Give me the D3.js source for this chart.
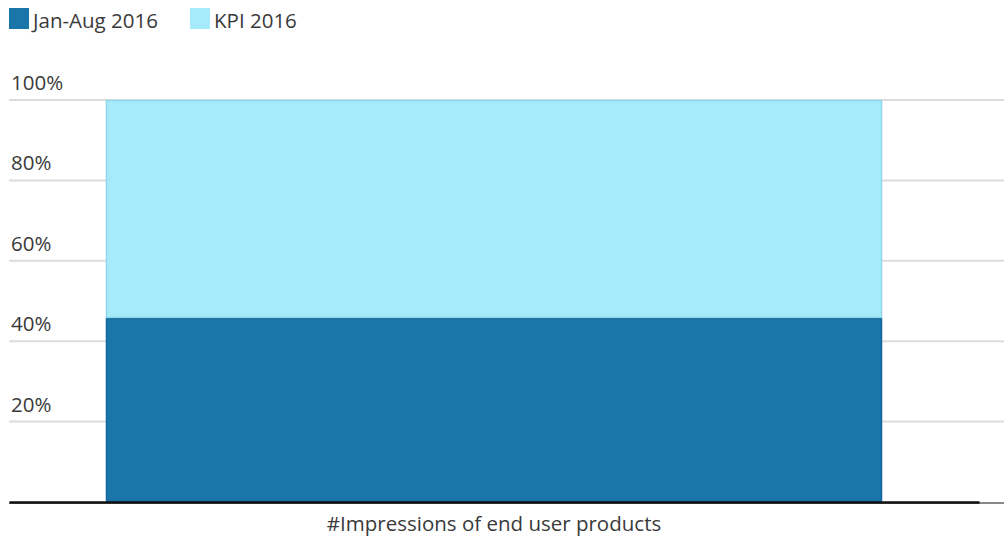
<!DOCTYPE html>
<html>
<head>
<meta charset="utf-8">
<script src="https://cdn.jsdelivr.net/npm/d3@7"></script>
<style>
body { margin: 0; background: #fff; font-family: "Open Sans", sans-serif; }
</style>
</head>
<body>
<div id="chart"></div>
<script>
var categories = ["#Impressions of end user products"];
var seriesNames = ["Jan-Aug 2016", "KPI 2016"];
var janAug = [45.8];
var kpi = [54.2];
var yTicks = [20, 40, 60, 80, 100];

var colors = ["#1a75a8", "#a6ebfc"];
var strokes = ["#15679a", "#8fd8ec"];

var svgWidth = 1004;
var svgHeight = 542;
var margin = { top: 100, right: 25, bottom: 40, left: 9 };
var width = svgWidth - margin.left - margin.right;
var height = svgHeight - margin.top - margin.bottom;

var svg = d3.select("#chart")
    .append("svg")
    .attr("width", svgWidth)
    .attr("height", svgHeight);

var chartGroup = svg.append("g")
    .attr("transform", `translate(${margin.left},${margin.top})`);

var xScale = d3.scaleBand()
    .domain(categories)
    .range([0, width])
    .paddingInner(0.2)
    .paddingOuter(0.1);

var yScale = d3.scaleLinear()
    .domain([0, 100])
    .range([height, 0]);

// gridlines
chartGroup.selectAll(".grid")
    .data(yTicks)
    .enter()
    .append("line")
    .attr("x1", 0)
    .attr("x2", svgWidth - margin.left)
    .attr("y1", d => yScale(d))
    .attr("y2", d => yScale(d))
    .attr("stroke", "#dcdcdc")
    .attr("stroke-width", 2);

chartGroup.append("line")
    .attr("x1", 0)
    .attr("x2", svgWidth - margin.left)
    .attr("y1", yScale(0) + 1)
    .attr("y2", yScale(0) + 1)
    .attr("stroke", "#888")
    .attr("stroke-width", 2);

// tick labels above gridlines
chartGroup.selectAll(".ytick")
    .data(yTicks)
    .enter()
    .append("text")
    .attr("x", 2)
    .attr("y", d => yScale(d) - 10)
    .style("font-size", "20.5px")
    .style("fill", "#3a3a3a")
    .text(d => d + "%");

var stackData = categories.map((c, i) => ({ cat: c, a: janAug[i], b: kpi[i] }));
var stacked = d3.stack().keys(["a", "b"])(stackData);

chartGroup.selectAll(".layer")
    .data(stacked)
    .enter()
    .append("g")
    .attr("fill", (d, i) => colors[i])
    .attr("stroke", (d, i) => strokes[i])
    .selectAll("rect")
    .data(d => d)
    .enter()
    .append("rect")
    .attr("x", d => xScale(d.data.cat) + 0.5)
    .attr("y", d => yScale(d[1]) + 0.5)
    .attr("width", xScale.bandwidth() - 1)
    .attr("height", d => yScale(d[0]) - yScale(d[1]) - 1)
    .attr("stroke-width", 1.5);

// axis baseline
var xAxis = chartGroup.append("g")
    .attr("transform", `translate(0,${height})`)
    .call(d3.axisBottom(xScale).tickSize(0).tickPadding(14));
xAxis.select(".domain").attr("stroke", "#111").attr("stroke-width", 2.5);
xAxis.selectAll("text")
    .style("font-family", "Open Sans")
    .style("font-size", "20.5px")
    .style("fill", "#3a3a3a");

// legend
var legend = svg.append("g");
var legendX = [9, 190];
seriesNames.forEach(function(name, i) {
    legend.append("rect")
        .attr("x", legendX[i])
        .attr("y", 8)
        .attr("width", 20)
        .attr("height", 21)
        .attr("fill", colors[i]);
    legend.append("text")
        .attr("x", legendX[i] + 24)
        .attr("y", 28)
        .style("font-size", "20.5px")
        .style("fill", "#3a3a3a")
        .text(name);
});
</script>
</body>
</html>
